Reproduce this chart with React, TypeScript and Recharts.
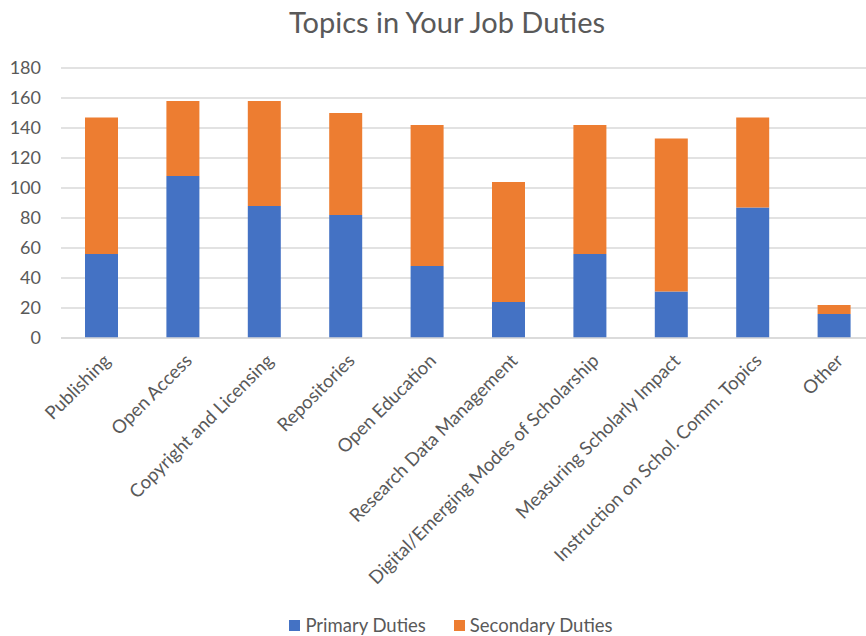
import * as React from "react";
import { BarChart, Bar, XAxis, YAxis, CartesianGrid } from "recharts";

const topics = [
  "Publishing",
  "Open Access",
  "Copyright and Licensing",
  "Repositories",
  "Open Education",
  "Research Data Management",
  "Digital/Emerging Modes of Scholarship",
  "Measuring Scholarly Impact",
  "Instruction on Schol. Comm. Topics",
  "Other",
];
const primaryDuties = [56, 108, 88, 82, 48, 24, 56, 31, 87, 16];
const secondaryDuties = [91, 50, 70, 68, 94, 80, 86, 102, 60, 6];
const yTicks = [0, 20, 40, 60, 80, 100, 120, 140, 160, 180];

const FONT = "Lato, 'Open Sans', sans-serif";
const GREY = "#595959";
const BLUE = "#4472C4";
const ORANGE = "#ED7D31";

const data = topics.map((topic, i) => ({
  topic,
  primary: primaryDuties[i],
  secondary: secondaryDuties[i],
}));

function RotatedTick(props: any) {
  const { x, y, payload } = props;
  return (
    <g transform={`translate(${x + 5},${y + 11})`}>
      <text
        transform="rotate(-45)"
        textAnchor="end"
        dominantBaseline="central"
        fill={GREY}
        fontSize={18.5}
        fontFamily={FONT}
      >
        {payload.value}
      </text>
    </g>
  );
}

function LegendBox() {
  const items = [
    { label: "Primary Duties", color: BLUE },
    { label: "Secondary Duties", color: ORANGE },
  ];
  return (
    <div
      style={{
        position: "absolute",
        top: 614,
        left: 0,
        width: 902,
        display: "flex",
        justifyContent: "center",
        gap: 28,
        fontFamily: FONT,
        fontSize: 18.5,
        color: GREY,
        lineHeight: "22px",
      }}
    >
      {items.map((it) => (
        <span key={it.label} style={{ display: "flex", alignItems: "center" }}>
          <span style={{ width: 11, height: 11, background: it.color, display: "inline-block", marginRight: 5 }} />
          {it.label}
        </span>
      ))}
    </div>
  );
}

export default function App() {
  return (
    <div
      style={{
        position: "absolute",
        left: 0,
        top: 0,
        width: 866,
        height: 636,
        background: "#fff",
        overflow: "hidden",
      }}
    >
      <div
        style={{
          position: "absolute",
          top: 4,
          left: 0,
          width: 894,
          textAlign: "center",
          fontFamily: FONT,
          fontSize: 29,
          color: GREY,
        }}
      >
        Topics in Your Job Duties
      </div>
      <BarChart
        width={880}
        height={636}
        data={data}
        margin={{ top: 68, right: 5, left: 0, bottom: 26 }}
      >
        <CartesianGrid vertical={false} stroke="#d9d9d9" strokeWidth={1.3} />
        <XAxis
          dataKey="topic"
          interval={0}
          height={272}
          tickLine={false}
          axisLine={{ stroke: "#d9d9d9", strokeWidth: 1.3 }}
          tick={<RotatedTick />}
        />
        <YAxis
          width={61}
          domain={[0, 180]}
          ticks={yTicks}
          tickLine={false}
          axisLine={false}
          tick={{ fill: GREY, fontSize: 18, fontFamily: FONT }}
          tickMargin={14}
        />
        <Bar dataKey="primary" stackId="a" fill={BLUE} barSize={33} isAnimationActive={false} />
        <Bar dataKey="secondary" stackId="a" fill={ORANGE} barSize={33} isAnimationActive={false} />
      </BarChart>
      <LegendBox />
    </div>
  );
}
